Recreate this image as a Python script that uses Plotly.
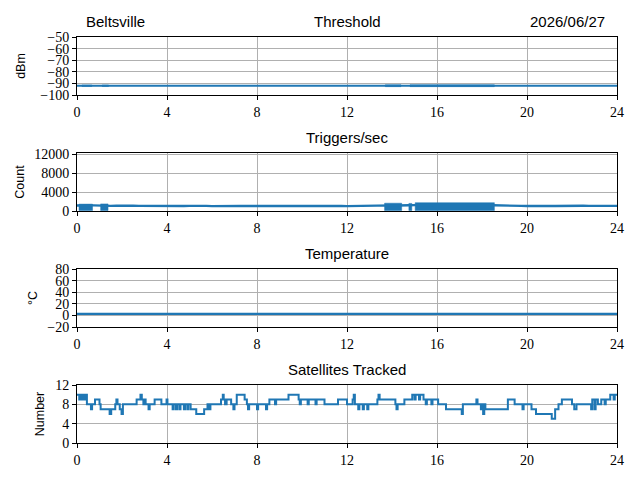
import plotly.graph_objects as go

# ---------------- data ----------------
station = "Beltsville"
date_label = "2026/06/27"
panel_titles = ["Threshold", "Triggers/sec", "Temperature", "Satellites Tracked"]
y_titles = ["dBm", "Count", "°C", "Number"]
x_ticks = [0, 4, 8, 12, 16, 20, 24]

sample_hours = [i * 0.25 for i in range(97)]

threshold_dbm = [
    -92.0, -91.9, -92.0, -92.1, -92.0, -91.9, -92.0, -92.0, -92.1, -92.0, -91.9, -92.0, -92.0, -92.1, -92.0, -92.0,
    -91.9, -92.0, -92.0, -92.1, -92.0, -92.0, -91.9, -92.0, -92.0, -92.0, -92.1, -92.0, -91.9, -92.0, -92.0, -92.0,
    -92.0, -92.1, -92.0, -91.9, -92.0, -92.0, -92.0, -92.1, -92.0, -92.0, -91.9, -92.0, -92.0, -92.0, -92.1, -92.0,
    -92.0, -91.9, -92.0, -92.0, -92.1, -92.0, -92.0, -91.9, -92.0, -92.0, -92.1, -92.0, -92.0, -91.9, -92.0, -92.0,
    -92.1, -92.0, -92.0, -91.9, -92.0, -92.0, -92.0, -92.1, -92.0, -92.0, -91.9, -92.0, -92.0, -92.1, -92.0, -92.0,
    -91.9, -92.0, -92.0, -92.0, -92.1, -92.0, -92.0, -91.9, -92.0, -92.0, -92.1, -92.0, -92.0, -91.9, -92.0, -92.0,
    -92.0,
]
threshold_burst_start = [0.22, 1.12, 13.70, 14.80]
threshold_burst_end = [0.66, 1.40, 14.40, 18.55]
threshold_burst_low = [-92.7, -92.7, -92.8, -92.8]
threshold_burst_high = [-91.3, -91.3, -91.2, -91.2]

trigger_count = [
    1150, 1100, 1200, 1180, 1120, 1150, 1080, 1100, 1050, 1120, 1100, 1080, 1060, 1100, 1120, 1090,
    1050, 1080, 1100, 1060, 1090, 1120, 1100, 1080, 1040, 1070, 1100, 1060, 1120, 1080, 1050, 1090,
    1100, 1060, 1080, 1050, 1070, 1100, 1090, 1060, 1040, 1080, 1100, 1070, 1050, 1090, 1060, 1080,
    1040, 1070, 1050, 1080, 1060, 1100, 1200, 1250, 1180, 1150, 1100, 1200, 1250, 1300, 1280, 1250,
    1300, 1320, 1280, 1300, 1350, 1300, 1280, 1320, 1300, 1350, 1200, 1150, 1100, 1080, 1120, 1090,
    1060, 1100, 1080, 1050, 1090, 1070, 1100, 1120, 1080, 1060, 1100, 1090, 1120, 1080, 1100, 1060,
    1090,
]
trigger_burst_start = [0.09, 1.05, 13.67, 14.75, 15.03]
trigger_burst_end = [0.69, 1.38, 14.43, 14.88, 18.55]
trigger_burst_low = [100, 100, 100, 100, 100]
trigger_burst_high = [1450, 1500, 1650, 1600, 1750]

temperature_c = [
    2.5, 2.5, 2.6, 2.5, 2.5, 2.4, 2.5, 2.5, 2.5, 2.6, 2.5, 2.5, 2.5, 2.4, 2.5, 2.5,
    2.5, 2.5, 2.6, 2.5, 2.5, 2.5, 2.4, 2.5, 2.5, 2.5, 2.6, 2.5, 2.5, 2.5, 2.5, 2.4,
    2.5, 2.5, 2.5, 2.6, 2.5, 2.5, 2.5, 2.5, 2.4, 2.5, 2.5, 2.6, 2.5, 2.5, 2.5, 2.5,
    2.4, 2.5, 2.5, 2.5, 2.6, 2.5, 2.5, 2.5, 2.4, 2.5, 2.5, 2.6, 2.5, 2.5, 2.5, 2.5,
    2.5, 2.4, 2.5, 2.5, 2.6, 2.5, 2.5, 2.5, 2.5, 2.4, 2.5, 2.5, 2.6, 2.5, 2.5, 2.5,
    2.5, 2.5, 2.4, 2.5, 2.5, 2.6, 2.5, 2.5, 2.5, 2.4, 2.5, 2.5, 2.5, 2.6, 2.5, 2.5,
    2.5,
]

sat_hours = [
    0.00, 0.10, 0.13, 0.22, 0.26, 0.35, 0.40, 0.44, 0.62, 0.67,
    0.80, 1.00, 1.05, 1.45, 1.52, 1.70, 1.75, 1.80, 1.90, 1.98,
    2.04, 2.65, 2.82, 2.88, 2.95, 3.00, 3.05, 3.18, 3.23, 3.45,
    3.75, 3.98, 4.02, 4.25, 4.30, 4.40, 4.45, 4.55, 4.60, 4.75,
    4.80, 4.90, 4.95, 5.05, 5.30, 5.65, 5.80, 5.88, 5.93, 6.40,
    6.48, 6.52, 6.58, 6.65, 6.85, 6.95, 7.00, 7.10, 7.45, 7.55,
    7.60, 7.65, 8.00, 8.05, 8.40, 8.45, 8.55, 8.80, 8.85, 9.40,
    9.85, 9.90, 9.95, 10.25, 10.30, 10.60, 10.65, 11.00, 11.60, 12.00,
    12.25, 12.30, 12.35, 12.50, 12.55, 12.70, 12.75, 12.90, 12.95, 13.35,
    13.40, 13.45, 14.15, 14.20, 14.25, 14.55, 14.90, 15.00, 15.05, 15.20,
    15.25, 15.40, 15.50, 15.55, 15.75, 15.80, 16.05, 16.40, 17.10, 17.15,
    17.75, 17.80, 17.95, 18.00, 18.05, 18.10, 18.15, 19.15, 19.45, 19.80,
    19.85, 20.20, 20.40, 21.10, 21.25, 21.40, 21.55, 22.00, 22.10, 22.20,
    22.85, 22.90, 23.00, 23.05, 23.15, 23.30, 23.45, 23.50, 23.70, 23.85,
    23.90, 24.00,
]
sat_tracked = [
    10, 9, 10, 9, 10, 9, 10, 8, 7, 8,
    9, 8, 7, 6, 7, 8, 9, 8, 7, 6,
    8, 9, 10, 9, 8, 9, 8, 7, 8, 9,
    8, 9, 8, 7, 8, 7, 8, 7, 8, 7,
    8, 7, 8, 7, 6, 7, 8, 7, 8, 9,
    10, 9, 8, 9, 8, 7, 8, 10, 9, 8,
    7, 8, 7, 8, 7, 8, 9, 8, 9, 10,
    9, 8, 9, 8, 9, 8, 9, 8, 9, 8,
    9, 10, 8, 7, 8, 7, 8, 7, 8, 9,
    10, 9, 8, 7, 8, 9, 10, 9, 10, 9,
    10, 9, 8, 9, 8, 9, 8, 7, 6, 8,
    9, 8, 7, 8, 6, 8, 7, 9, 8, 7,
    8, 7, 6, 5, 7, 8, 9, 8, 7, 8,
    7, 9, 7, 9, 8, 9, 8, 9, 10, 9,
    10, 10,
]

y_ranges = [[-100, -50], [0, 12250], [-20, 80], [0, 12]]
y_ticks = [
    [-100, -90, -80, -70, -60, -50],
    [0, 4000, 8000, 12000],
    [-20, 0, 20, 40, 60, 80],
    [0, 4, 8, 12],
]

# ---------------- figure ----------------
BLUE = "#1f77b4"
TICK_FONT = dict(family="Liberation Serif, serif", size=14, color="black")
TITLE_FONT = dict(family="Liberation Sans, Arial, sans-serif", size=15, color="black")
LABEL_FONT = dict(family="Liberation Sans, Arial, sans-serif", size=12.5, color="black")

# page is offset by the browser's 8px body margin, so the figure is 632x472
FIG_W, FIG_H = 632, 472
M_L, M_R, M_T, M_B = 69, 23, 29, 37
H = float(FIG_H - M_T - M_B)  # 406
domains = [
    [348 / H, 406 / H],
    [232 / H, 290 / H],
    [116 / H, 174 / H],
    [0.0, 58 / H],
]
title_standoff = [11, 6, 6, 7]

fig = go.Figure()


def burst_polygon(starts, ends, lows, highs):
    xs, ys = [], []
    for s, e, lo, hi in zip(starts, ends, lows, highs):
        xs += [s, e, e, s, s, None]
        ys += [lo, lo, hi, hi, lo, None]
    return xs, ys


# Threshold
bx, by = burst_polygon(threshold_burst_start, threshold_burst_end, threshold_burst_low, threshold_burst_high)
fig.add_trace(go.Scatter(x=bx, y=by, fill="toself", fillcolor=BLUE, mode="lines",
                         line=dict(color=BLUE, width=0.5), xaxis="x", yaxis="y", hoverinfo="skip"))
fig.add_trace(go.Scatter(x=sample_hours, y=threshold_dbm, mode="lines",
                         line=dict(color=BLUE, width=2), xaxis="x", yaxis="y"))

# Triggers
bx, by = burst_polygon(trigger_burst_start, trigger_burst_end, trigger_burst_low, trigger_burst_high)
fig.add_trace(go.Scatter(x=bx, y=by, fill="toself", fillcolor=BLUE, mode="lines",
                         line=dict(color=BLUE, width=0.5), xaxis="x2", yaxis="y2", hoverinfo="skip"))
fig.add_trace(go.Scatter(x=sample_hours, y=trigger_count, mode="lines",
                         line=dict(color=BLUE, width=2.4), xaxis="x2", yaxis="y2"))

# Temperature
fig.add_trace(go.Scatter(x=sample_hours, y=temperature_c, mode="lines",
                         line=dict(color=BLUE, width=2.2), xaxis="x3", yaxis="y3"))

# Satellites
fig.add_trace(go.Scatter(x=sat_hours, y=sat_tracked, mode="lines", line_shape="hv",
                         line=dict(color=BLUE, width=2), xaxis="x4", yaxis="y4"))

layout = dict(
    width=FIG_W, height=FIG_H,
    margin=dict(l=M_L, r=M_R, t=M_T, b=M_B, autoexpand=False),
    paper_bgcolor="white", plot_bgcolor="white",
    showlegend=False,
)

axis_common = dict(
    showline=True, linecolor="black", linewidth=1, mirror=True,
    ticks="outside", ticklen=4, tickwidth=0.8, tickcolor="black",
    showgrid=True, gridcolor="#b0b0b0", gridwidth=0.8,
    zeroline=False, tickfont=TICK_FONT, automargin=False,
)

annotations = []
for i in range(4):
    sfx = "" if i == 0 else str(i + 1)
    layout["xaxis" + sfx] = dict(
        axis_common, domain=[0, 1], range=[0, 24], tickvals=x_ticks,
        anchor="y" + sfx,
    )
    layout["yaxis" + sfx] = dict(
        axis_common, domain=domains[i], range=y_ranges[i], tickvals=y_ticks[i],
        tickformat="d", anchor="x" + sfx,
        title=dict(text=y_titles[i], font=LABEL_FONT, standoff=title_standoff[i]),
    )
    annotations.append(dict(
        text=panel_titles[i], xref="paper", yref="paper", x=0.5, y=domains[i][1],
        xanchor="center", yanchor="bottom", yshift=5, showarrow=False, font=TITLE_FONT,
    ))

annotations.append(dict(text=station, xref="paper", yref="paper", x=7 / 540, y=domains[0][1],
                        xanchor="left", yanchor="bottom", yshift=5, showarrow=False, font=TITLE_FONT))
annotations.append(dict(text=date_label, xref="paper", yref="paper", x=530 / 540, y=domains[0][1],
                        xanchor="right", yanchor="bottom", yshift=5, showarrow=False, font=TITLE_FONT))

layout["annotations"] = annotations
fig.update_layout(**layout)

fig.write_html("out.html")
